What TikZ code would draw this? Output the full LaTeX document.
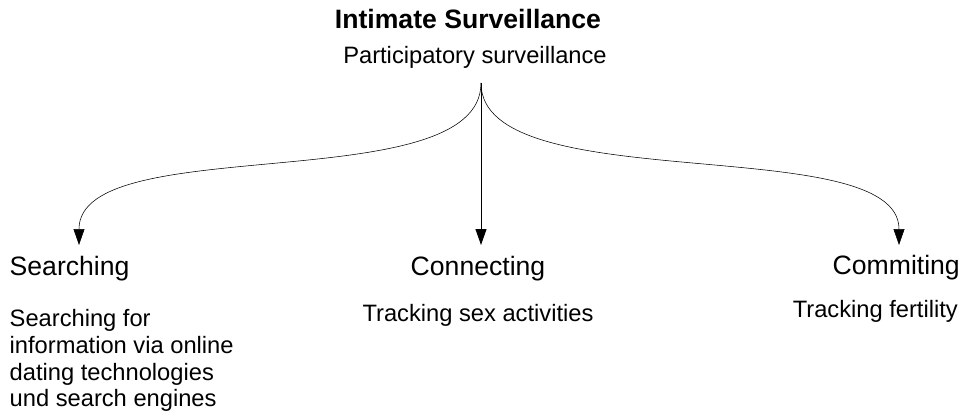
\documentclass[tikz,border=0pt]{standalone}
\usepackage{fontspec}
\setmainfont{Liberation Sans}
\usetikzlibrary{arrows.meta}
\begin{document}
\begin{tikzpicture}[x=1pt,y=-1pt,
  headtxt/.style={font=\fontsize{26.6}{30}\selectfont, inner sep=0pt},
  titletxt/.style={font=\bfseries\fontsize{26.6}{30}\selectfont, inner sep=0pt},
  bodytxt/.style={font=\fontsize{23.7}{26.7}\selectfont, inner sep=0pt},
  conn/.style={-{Triangle[length=16pt,width=11pt]}, line width=0.55pt},
  straightconn/.style={conn, line width=0.9pt}]
\useasboundingbox (0,0) rectangle (977,416);
% texts
\node[titletxt, anchor=base] (title) at (468,28) {Intimate Surveillance};
\node[bodytxt, anchor=base] (part) at (475,63) {Participatory surveillance};
\node[headtxt, anchor=base west] (searching) at (9.5,275) {Searching};
\node[headtxt, anchor=base] (connecting) at (478,275) {Connecting};
\node[headtxt, anchor=base east] (commiting) at (960,274) {Commiting};
\node[bodytxt, anchor=north west, align=left] (searchdesc) at (9.5,309.4)
  {Searching for\\information via online\\dating technologies\\und search engines};
\node[bodytxt, anchor=base] (conndesc) at (478,321) {Tracking sex activities};
\node[bodytxt, anchor=base east] (commdesc) at (958,317) {Tracking fertility};
% connector ends
\coordinate (src) at (481,83);
\coordinate (tipL) at (79,245);
\coordinate (tipC) at (481,245);
\coordinate (tipR) at (899,245);
% connectors
\draw[conn] (src) .. controls (481,200) and (79,130) .. (tipL);
\draw[straightconn] (src) -- (tipC);
\draw[conn] (src) .. controls (481,200) and (899,130) .. (tipR);
\end{tikzpicture}
\end{document}
